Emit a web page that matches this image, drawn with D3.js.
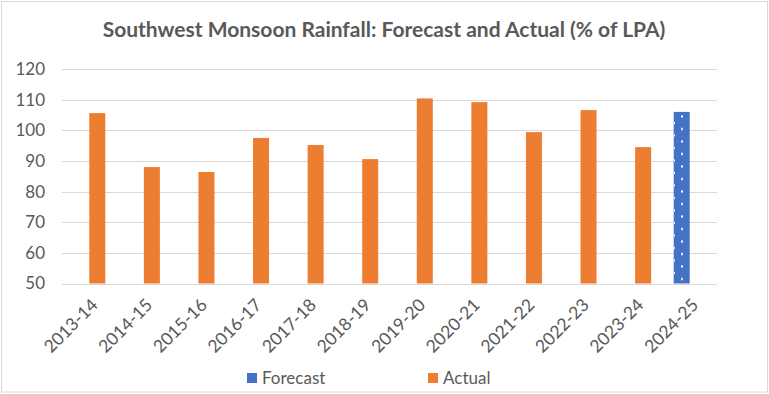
<!DOCTYPE html>
<html>
<head>
<meta charset="utf-8">
<script src="https://cdn.jsdelivr.net/npm/d3@7"></script>
<style>
    body { margin: 0; background: #fff; }
    text { font-family: Lato, "Open Sans", sans-serif; fill: #595959; }
</style>
</head>
<body>
<div id="chart"></div>
<script>
// Dades del gràfic
const years = ["2013-14", "2014-15", "2015-16", "2016-17", "2017-18", "2018-19",
    "2019-20", "2020-21", "2021-22", "2022-23", "2023-24", "2024-25"];
const actual = [105.6, 88, 86.4, 97.5, 95.2, 90.6, 110.4, 109.2, 99.4, 106.6, 94.5, null];
const forecast = [null, null, null, null, null, null, null, null, null, null, null, 106];
const seriesNames = ["Forecast", "Actual"];
const yTicks = [50, 60, 70, 80, 90, 100, 110, 120];

const width = 769, height = 394;
const margin = {top: 69, right: 52, bottom: 110.5, left: 62};
const innerWidth = width - margin.left - margin.right;
const innerHeight = height - margin.top - margin.bottom;
const colors = {Forecast: "#4472C4", Actual: "#ED7D31"};

const svg = d3.select("#chart").append("svg")
    .attr("width", width)
    .attr("height", height);

// Patró de punts per a la previsió
const pat = svg.append("defs").append("pattern")
    .attr("id", "dots")
    .attr("patternUnits", "userSpaceOnUse")
    .attr("width", 16).attr("height", 12.5)
    .attr("x", 0).attr("y", 0);
pat.append("rect").attr("width", 16).attr("height", 12.5).attr("fill", colors.Forecast);
pat.append("rect").attr("x", 4).attr("y", 3).attr("width", 1).attr("height", 2).attr("fill", "#fff");
pat.append("rect").attr("x", 11).attr("y", 9).attr("width", 2).attr("height", 2).attr("fill", "#fff");

// Marc del gràfic
svg.append("rect")
    .attr("x", 1.5).attr("y", 1.5)
    .attr("width", width - 3).attr("height", height - 3.5)
    .attr("fill", "#fff")
    .attr("stroke", "#d9d9d9");

const chart = svg.append("g")
    .attr("transform", `translate(${margin.left}, ${margin.top})`);

const x = d3.scaleBand().domain(years).range([0, innerWidth]);
const xs = d3.scaleBand().domain(seriesNames).range([x.bandwidth() / 2 - 16, x.bandwidth() / 2 + 16]);
const y = d3.scaleLinear().domain([50, 120]).range([innerHeight, 0]);

// Línies de la graella
chart.append("g")
    .selectAll("line")
    .data(yTicks)
    .join("line")
    .attr("x1", 0).attr("x2", innerWidth)
    .attr("y1", d => Math.round(y(d)) + 0.5).attr("y2", d => Math.round(y(d)) + 0.5)
    .attr("stroke", "#d9d9d9")
    .attr("stroke-width", 1);

// Eix Y
const yAxis = chart.append("g")
    .call(d3.axisLeft(y).tickValues(yTicks).tickSize(0).tickPadding(17));
yAxis.select(".domain").remove();
yAxis.selectAll("text")
    .style("font-size", "17px")
    .style("font-family", "Lato, sans-serif")
    .attr("fill", "#595959");

// Barres
const rows = years.map((yr, i) => ({year: yr, Forecast: forecast[i], Actual: actual[i]}));
seriesNames.forEach(name => {
    chart.append("g")
        .selectAll("rect")
        .data(rows.filter(d => d[name] != null))
        .join("rect")
        .attr("x", d => x(d.year) + xs(name))
        .attr("width", xs.bandwidth())
        .attr("y", d => y(d[name]))
        .attr("height", d => innerHeight - y(d[name]))
        .attr("fill", name === "Forecast" ? "url(#dots)" : colors[name]);
});

// Eix X amb etiquetes girades
chart.append("g")
    .selectAll("text")
    .data(years)
    .join("text")
    .attr("transform", d => `translate(${x(d) + x.bandwidth() / 2 + 1}, ${innerHeight + 14}) rotate(-45)`)
    .attr("text-anchor", "end")
    .attr("dy", "0.7em")
    .style("font-size", "17.5px")
    .text(d => d);

// Títol
svg.append("text")
    .attr("x", 384)
    .attr("y", 37)
    .attr("text-anchor", "middle")
    .style("font-size", "21px")
    .style("font-weight", "bold")
    .text("Southwest Monsoon Rainfall: Forecast and Actual (% of LPA)");

// Llegenda
const legendPos = [{name: "Forecast", x: 247}, {name: "Actual", x: 428}];
const legend = svg.append("g")
    .selectAll("g")
    .data(legendPos)
    .join("g")
    .attr("transform", d => `translate(${d.x}, 373)`);
legend.append("rect")
    .attr("width", 10).attr("height", 10)
    .attr("fill", d => colors[d.name]);
legend.append("text")
    .attr("x", 15).attr("y", 11)
    .style("font-size", "17px")
    .text(d => d.name);
</script>
</body>
</html>
